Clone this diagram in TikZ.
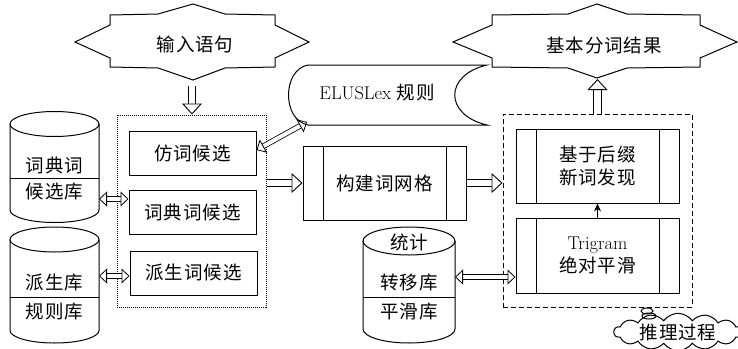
\documentclass[tikz,border=0pt]{standalone}
\usepackage{fontspec}
\newfontfamily\cjk[LetterSpace=5]{Noto Sans CJK SC}
\usetikzlibrary{arrows.meta,shapes.symbols}
\tikzset{
  myline/.style={line width=1pt},
  txt/.style={inner sep=0pt, align=center},
  candbox/.style={draw, myline, inner sep=0pt, minimum width=127pt, minimum height=44pt},
  procbox/.style={draw, myline, inner sep=0pt, minimum width=163pt, minimum height=74pt, align=center,
    path picture={
      \draw[myline] ([xshift=20pt]path picture bounding box.north west) -- ([xshift=20pt]path picture bounding box.south west);
      \draw[myline] ([xshift=-20pt]path picture bounding box.north east) -- ([xshift=-20pt]path picture bounding box.south east);}},
  fat/.style={draw, double, double distance=6.5pt, line width=0.9pt, -{Triangle[open, length=11pt, width=20pt]}},
  dbl/.style={draw, double, double distance=4pt, line width=0.8pt,
    {Triangle[open, length=8pt, width=15pt]}-{Triangle[open, length=8pt, width=15pt]}},
}
\begin{document}
\begin{tikzpicture}[x=1pt,y=-1pt,font=\fontsize{18.5}{23}\selectfont]
\useasboundingbox (0,0) rectangle (738,348);

% input star
\draw[myline] (75,42) -- (110,25) -- (110,15) -- (158,14) -- (193,4) -- (225,14) -- (275,15) -- (275,25) -- (309,42) -- (275,58) -- (275,67) -- (225,68) -- (193,80) -- (158,68) -- (110,67) -- (110,58) -- cycle;
\node[txt] (instar) at (195,44) {\cjk 输入语句};
\coordinate (instarb) at (192,86);

% output star
\draw[myline] (453,42) -- (492,25) -- (492,15) -- (568,14) -- (597,4) -- (627,14) -- (700,15) -- (700,25) -- (737,42) -- (700,58) -- (700,67) -- (627,68) -- (597,78) -- (568,68) -- (492,67) -- (492,58) -- cycle;
\node[txt] (outstar) at (604,45) {\cjk 基本分词结果};
\coordinate (outstarb) at (597.5,79);

% ELUSLex stored data shape
\draw[myline] (308,65) -- (487,65) .. controls (444,75) and (444,115) .. (487,125) -- (308,125) .. controls (282,120) and (282,70) .. (308,65) -- cycle;
\node[txt] (elu) at (377,93) {ELUSLex {\cjk 规则}};
\coordinate (elusw) at (307,122);

% candidate dotted box
\node[draw, densely dotted, line width=1pt, minimum width=149pt, minimum height=192pt, inner sep=0pt] (cand) at (191.5,211) {};
\node[candbox] (fang) at (192.5,153) {\cjk 仿词候选};
\node[candbox] (cidian) at (192.5,212.5) {\cjk 词典词候选};
\node[candbox] (paisheng) at (193.5,273) {\cjk 派生词候选};

% lattice
\node[procbox] (goujian) at (384.5,183) {\cjk 构建词网格};

% dashed reasoning box
\node[draw, line width=1pt, dash pattern=on 5pt off 3pt, minimum width=189pt, minimum height=193pt, inner sep=0pt] (dash) at (597.5,210.5) {};
\node[procbox] (jiyu) at (597.5,166) {\cjk 基于后缀\\\cjk 新词发现};
\node[procbox, minimum height=75pt] (trigram) at (597.5,255.5) {Trigram\\\cjk 绝对平滑};

% cylinder 1
\draw[myline] (54.5,124) ellipse[x radius=44.5pt, y radius=12.5pt];
\draw[myline] (10,124) -- (10,210) arc[start angle=180, end angle=360, x radius=44.5pt, y radius=12.5pt] -- (99,124);
\draw[myline] (10,178) -- (99,178);
\node[txt] (c1a) at (54.5,165) {\cjk 词典词};
\node[txt] (c1b) at (54.5,192) {\cjk 候选库};
\coordinate (c1e) at (99,199);

% cylinder 2
\draw[myline] (54.5,239.5) ellipse[x radius=44.5pt, y radius=12.5pt];
\draw[myline] (10,239.5) -- (10,330.5) arc[start angle=180, end angle=360, x radius=44.5pt, y radius=12.5pt] -- (99,239.5);
\draw[myline] (10,297) -- (99,297);
\node[txt] (c2a) at (54.5,283) {\cjk 派生库};
\node[txt] (c2b) at (54.5,312) {\cjk 规则库};
\coordinate (c2e) at (99,276);

% cylinder 3
\draw[myline] (409,241) ellipse[x radius=46pt, y radius=14pt];
\draw[myline] (363,241) -- (363,329) arc[start angle=180, end angle=360, x radius=46pt, y radius=14pt] -- (455,241);
\draw[myline] (363,297) -- (455,297);
\node[txt] (c3t) at (409,242) {\cjk 统计};
\node[txt] (c3a) at (409,283) {\cjk 转移库};
\node[txt] (c3b) at (409,312) {\cjk 平滑库};
\coordinate (c3e) at (455,277);

% cloud
\node[cloud, draw, myline, cloud puffs=14, cloud puff arc=110, aspect=5, minimum width=128pt, minimum height=28pt, inner sep=0pt] (cloud) at (678,332) {\cjk 推理过程};
\draw[myline] (647,311) ellipse[x radius=6pt, y radius=3pt];
\draw[myline] (649,316) ellipse[x radius=7pt, y radius=3pt];

% connectors
\draw[fat] (instarb) -- (instarb |- cand.north);
\draw[fat] (dash.north) -- (outstarb);
\draw[dbl] (c1e) -- (c1e -| cidian.west);
\draw[dbl] (c2e) -- (c2e -| paisheng.west);
\draw[dbl] ([yshift=3pt]fang.east) -- (elusw);
\draw[fat] (cand.east |- goujian.west) -- (goujian.west);
\draw[fat] (goujian.east) -- (goujian.east -| dash.west);
\draw[dbl] (c3e) -- (c3e -| trigram.west);
\draw[myline, -{Stealth[length=8pt, width=7pt]}] (trigram.north) -- (jiyu.south);
\end{tikzpicture}
\end{document}
